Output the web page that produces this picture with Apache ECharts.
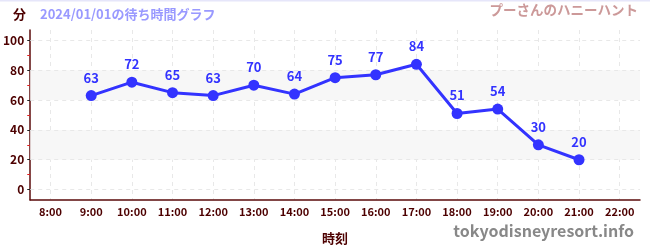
<!DOCTYPE html>
<html><head><meta charset="utf-8">
<script src="https://cdn.jsdelivr.net/npm/echarts@6/dist/echarts.min.js"></script>
<style>html,body{margin:0;padding:0;background:#fff}#c{width:650px;height:250px}</style>
</head><body><div id="c"></div>
<script>
var categories = ['8:00','9:00','10:00','11:00','12:00','13:00','14:00','15:00','16:00','17:00','18:00','19:00','20:00','21:00','22:00'];
var waitTimes = [null,63,72,65,63,70,64,75,77,84,51,54,30,20,null];
var yMajorTicks = [0,20,40,60,80,100];
var yMinorTicks = [10,30,50,70,90];
var bands = [[20,40],[60,80]];

var F = '"Noto Sans CJK JP", "Noto Sans", sans-serif';
var axisColor = '#5a0a0a';
var chart = echarts.init(document.getElementById('c'));
var yBase = {type:'value', min:-7, max:107, position:'left'};
chart.setOption({
  animation:false,
  textStyle:{fontFamily:F},
  grid:{left:30, right:10, top:30, bottom:50},
  graphic:[
    {type:'rect', shape:{x:0,y:0,width:650,height:1.5}, style:{fill:'#e6e6fa'}},
    {type:'text', left:13, top:8, style:{text:'分', font:'bold 13px '+F, fill:'#4d0000'}},
    {type:'text', left:40, top:8, style:{text:'2024/01/01の待ち時間グラフ', font:'bold 13px '+F, fill:'#9999ff'}},
    {type:'text', right:12, top:3, style:{text:'プーさんのハニーハント', font:'bold 13.5px '+F, fill:'#cc9999'}},
    {type:'text', right:16, top:223, style:{text:'tokyodisneyresort.info', font:'bold 16px '+F, fill:'#888888'}}
  ],
  xAxis:{
    type:'category', data:categories, boundaryGap:true,
    name:'時刻', nameLocation:'middle', nameGap:32,
    nameTextStyle:{color:'#4d0000', fontWeight:'bold', fontSize:13, fontFamily:F},
    axisLine:{onZero:false, lineStyle:{color:axisColor, width:1.5}},
    axisTick:{alignWithLabel:true, length:3, inside:false, lineStyle:{color:'#555'}},
    axisLabel:{color:'#4d0000', fontSize:11, fontWeight:'bold', margin:6, interval:0},
    splitLine:{show:true, alignWithLabel:true, interval:0, lineStyle:{color:'#e8e8e8', type:[4,4]}}
  },
  yAxis:[
    Object.assign({}, yBase, {
      axisLine:{show:true, lineStyle:{color:axisColor, width:1.5}},
      axisTick:{show:true, inside:true, length:2, customValues:yMajorTicks, lineStyle:{color:'#222'}},
      axisLabel:{customValues:yMajorTicks, color:'#4d0000', fontSize:12, fontWeight:'bold', margin:6},
      splitLine:{show:false}
    }),
    Object.assign({}, yBase, {
      axisLine:{show:false},
      axisTick:{show:true, length:3, customValues:yMajorTicks, lineStyle:{color:'#222'}},
      axisLabel:{show:false},
      splitLine:{show:false}
    }),
    Object.assign({}, yBase, {
      axisLine:{show:false},
      axisTick:{show:true, length:3, customValues:yMinorTicks, lineStyle:{color:'#e02020'}},
      axisLabel:{show:false},
      splitLine:{show:false}
    })
  ],
  series:[{
    type:'line', data:waitTimes, yAxisIndex:0,
    symbol:'circle', symbolSize:11,
    lineStyle:{color:'#3333ff', width:3},
    itemStyle:{color:'#3333ff'},
    label:{show:true, position:'top', distance:6, color:'#3333ff', fontSize:13, fontWeight:'bold', fontFamily:F},
    markArea:{silent:true, itemStyle:{color:'#f7f7f7'},
      data: bands.map(function(b){return [{yAxis:b[0]},{yAxis:b[1]}];})},
    markLine:{silent:true, symbol:'none', label:{show:false},
      lineStyle:{color:'#e8e8e8', type:[4,4], width:1},
      data: yMajorTicks.map(function(v){return {yAxis:v};})},
    z:5
  }]
});
</script></body></html>
